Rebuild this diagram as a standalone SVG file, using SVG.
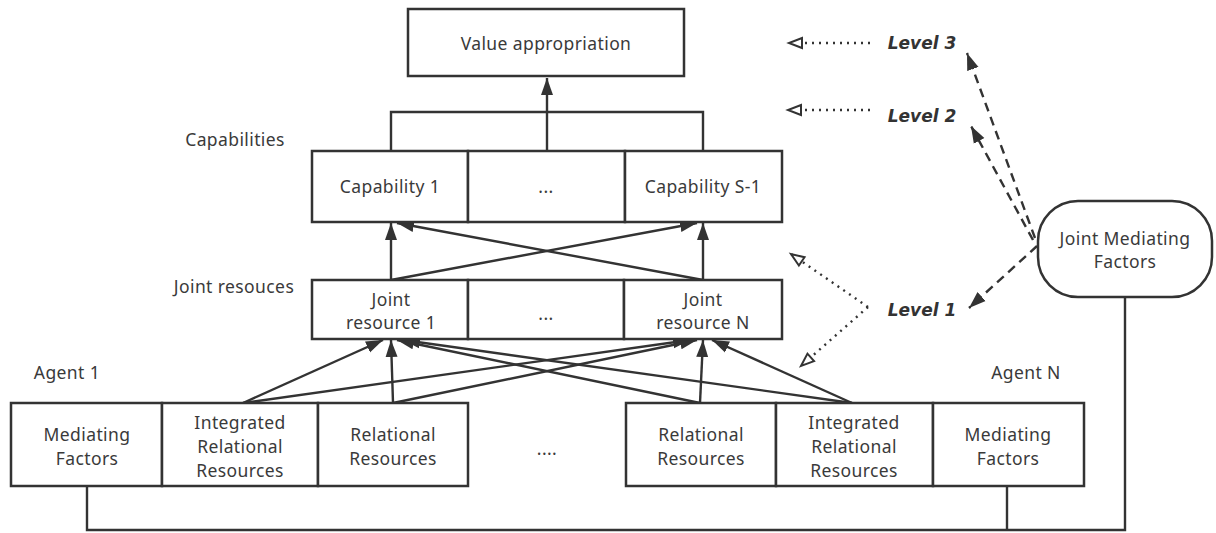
<svg xmlns="http://www.w3.org/2000/svg" width="1216" height="533" viewBox="0 0 1216 533">
<style>
.box{fill:#fff;stroke:#333;stroke-width:2.5}
.t{font-family:"Noto Sans","Open Sans",sans-serif;font-size:17.5px;letter-spacing:0.4px;fill:#3a3a3a;text-anchor:middle;dominant-baseline:central}
.lv{font-family:"DejaVu Sans","Noto Sans",sans-serif;font-size:17px;font-weight:bold;font-style:italic;fill:#333;text-anchor:middle;dominant-baseline:central}
.c{fill:none;stroke:#333;stroke-width:2.4}
.ar{marker-end:url(#a)}
.dash{fill:none;stroke:#333;stroke-width:2.4;stroke-dasharray:9 6;marker-end:url(#a)}
.dot{fill:none;stroke:#333;stroke-width:2.4;stroke-dasharray:2 5;marker-end:url(#o)}
</style>
<defs>
<marker id="a" markerUnits="userSpaceOnUse" markerWidth="18" markerHeight="14" refX="17" refY="7" orient="auto"><path d="M0,1 L17,7 L0,13 z" fill="#333"/></marker>
<marker id="o" markerUnits="userSpaceOnUse" markerWidth="18" markerHeight="14" refX="15" refY="7" orient="auto"><path d="M2,2 L15,7 L2,12 z" fill="#fff" stroke="#333" stroke-width="2"/></marker>
</defs>
<rect width="1216" height="533" fill="#fff"/>

<g id="connectors">
<path class="c" d="M391,150 V112 H703 V150"/>
<path class="c ar" d="M547,150 V78"/>
<path class="c ar" d="M391,280 V223"/>
<path class="c ar" d="M703,280 V223"/>
<path class="c ar" d="M391,280 L697,223"/>
<path class="c ar" d="M703,280 L397,223"/>
<path class="c ar" d="M243,403 L383,340"/>
<path class="c ar" d="M243,403 L690,340"/>
<path class="c ar" d="M393,403 L391,340"/>
<path class="c ar" d="M393,403 L697,340"/>
<path class="c ar" d="M700,403 L703,340"/>
<path class="c ar" d="M700,403 L397,340"/>
<path class="c ar" d="M852,403 L712,340"/>
<path class="c ar" d="M852,403 L403,340"/>
<path class="c" d="M87,486 V530 H1125 V297"/>
<path class="c" d="M1007,486 V530"/>
<path class="dash" d="M1035,238 L967,53"/>
<path class="dash" d="M1033,240 L971,126"/>
<path class="dash" d="M1037,246 L969,308"/>
<path class="dot" d="M870,43 L789,43"/>
<path class="dot" d="M870,110 L788,110"/>
<path class="dot" d="M868,307 L791,254"/>
<path class="dot" d="M868,307 L801,366"/>
</g>

<g id="value"><rect class="box" x="408" y="9" width="276" height="67"/><text class="t" x="546" y="43">Value appropriation</text></g>

<g id="cap-label"><text class="t" x="235" y="139">Capabilities</text></g>
<g id="cap1"><rect class="box" x="312" y="151" width="156" height="71"/><text class="t" x="390" y="186">Capability 1</text></g>
<g id="cap-mid"><rect class="box" x="468" y="151" width="157" height="71"/><text class="t" x="546" y="186" font-size="14">...</text></g>
<g id="capS"><rect class="box" x="625" y="151" width="157" height="71"/><text class="t" x="703" y="186">Capability S-1</text></g>

<g id="jr-label"><text class="t" x="234" y="286">Joint resouces</text></g>
<g id="jr1"><rect class="box" x="312" y="280" width="156" height="59"/><text class="t" x="391" y="299">Joint</text><text class="t" x="391" y="322">resource 1</text></g>
<g id="jr-mid"><rect class="box" x="468" y="280" width="156" height="59"/><text class="t" x="546" y="313" font-size="14">...</text></g>
<g id="jrN"><rect class="box" x="624" y="280" width="158" height="59"/><text class="t" x="703" y="299">Joint</text><text class="t" x="703" y="322">resource N</text></g>

<g id="agent1-label"><text class="t" x="67" y="372">Agent 1</text></g>
<g id="agentN-label"><text class="t" x="1026" y="372">Agent N</text></g>

<g id="mf1"><rect class="box" x="11" y="403" width="151" height="83"/><text class="t" x="87" y="434">Mediating</text><text class="t" x="87" y="458">Factors</text></g>
<g id="irr1"><rect class="box" x="162" y="403" width="156" height="83"/><text class="t" x="240" y="422">Integrated</text><text class="t" x="240" y="446">Relational</text><text class="t" x="240" y="470">Resources</text></g>
<g id="rr1"><rect class="box" x="318" y="403" width="150" height="83"/><text class="t" x="393" y="434">Relational</text><text class="t" x="393" y="458">Resources</text></g>
<g id="dots"><text class="t" x="547" y="448" font-size="14">....</text></g>
<g id="rrN"><rect class="box" x="626" y="403" width="150" height="83"/><text class="t" x="701" y="434">Relational</text><text class="t" x="701" y="458">Resources</text></g>
<g id="irrN"><rect class="box" x="776" y="403" width="157" height="83"/><text class="t" x="854" y="422">Integrated</text><text class="t" x="854" y="446">Relational</text><text class="t" x="854" y="470">Resources</text></g>
<g id="mfN"><rect class="box" x="933" y="403" width="151" height="83"/><text class="t" x="1008" y="434">Mediating</text><text class="t" x="1008" y="458">Factors</text></g>

<g id="jmf"><rect class="box" x="1038" y="201" width="174" height="96" rx="40" ry="40"/><text class="t" x="1125" y="238">Joint Mediating</text><text class="t" x="1125" y="261">Factors</text></g>

<g id="level3"><text class="lv" x="922" y="43">Level 3</text></g>
<g id="level2"><text class="lv" x="922" y="116">Level 2</text></g>
<g id="level1"><text class="lv" x="922" y="310">Level 1</text></g>
</svg>
